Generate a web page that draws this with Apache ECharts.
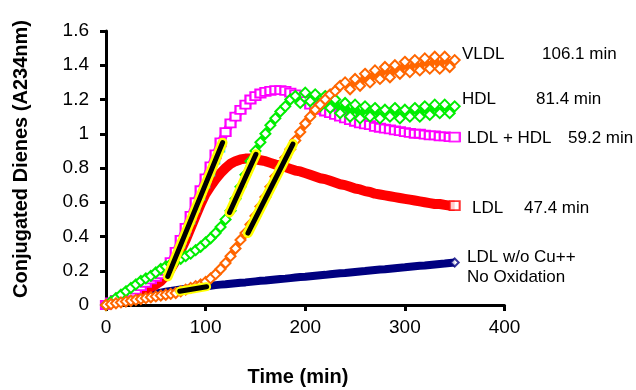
<!DOCTYPE html>
<html>
<head>
<meta charset="utf-8">
<script src="https://cdn.jsdelivr.net/npm/echarts@6/dist/echarts.min.js"></script>
<style>
html,body{margin:0;padding:0;background:#fff;}
#chart{width:636px;height:390px;}
</style>
</head>
<body>
<div id="chart"></div>
<script>
// Time points (min)
const time = [0,5,10,15,20,25,30,35,40,45,50,55,60,65,70,75,80,85,90,95,100,105,110,115,120,125,130,135,140,145,150,155,160,165,170,175,180,185,190,195,200,205,210,215,220,225,230,235,240,245,250,255,260,265,270,275,280,285,290,295,300,305,310,315,320,325,330,335,340,345,350];

// LDL (red)
const ldl = [0,0.01,0.02,0.03,0.04,0.05,0.06,0.075,0.09,0.105,0.12,0.14,0.17,0.21,0.26,0.32,0.38,0.45,0.52,0.59,0.65,0.695,0.735,0.77,0.80,0.825,0.84,0.85,0.855,0.855,0.85,0.845,0.84,0.83,0.82,0.815,0.805,0.795,0.785,0.78,0.77,0.76,0.75,0.74,0.735,0.725,0.715,0.705,0.70,0.69,0.68,0.675,0.665,0.66,0.65,0.645,0.64,0.635,0.63,0.625,0.62,0.615,0.61,0.605,0.60,0.595,0.59,0.59,0.585,0.58,0.58];

// LDL + HDL (magenta)
const ldlHdl = [0,0.015,0.03,0.045,0.06,0.075,0.09,0.11,0.13,0.15,0.165,0.18,0.2,0.25,0.31,0.38,0.45,0.52,0.6,0.67,0.74,0.81,0.88,0.95,1.01,1.06,1.1,1.14,1.17,1.2,1.22,1.235,1.245,1.25,1.255,1.255,1.25,1.24,1.23,1.21,1.19,1.17,1.15,1.14,1.13,1.12,1.11,1.10,1.09,1.08,1.07,1.06,1.055,1.05,1.04,1.035,1.03,1.025,1.02,1.015,1.01,1.005,1.0,1.0,0.995,0.99,0.99,0.985,0.985,0.98,0.98];

// HDL (green)
const hdl = [0,0.02,0.04,0.06,0.08,0.10,0.12,0.14,0.155,0.17,0.19,0.21,0.225,0.24,0.255,0.27,0.285,0.30,0.32,0.34,0.365,0.39,0.42,0.455,0.50,0.55,0.62,0.69,0.76,0.84,0.90,0.95,1.0,1.05,1.09,1.13,1.16,1.20,1.22,1.18,1.24,1.19,1.23,1.16,1.22,1.15,1.20,1.12,1.18,1.10,1.17,1.09,1.16,1.10,1.15,1.09,1.14,1.10,1.15,1.09,1.14,1.10,1.15,1.10,1.16,1.11,1.17,1.12,1.17,1.12,1.16];

// VLDL (orange)
const vldl = [0,0.005,0.01,0.015,0.02,0.025,0.03,0.035,0.04,0.045,0.05,0.055,0.06,0.065,0.07,0.08,0.09,0.10,0.11,0.12,0.135,0.155,0.18,0.21,0.245,0.285,0.33,0.38,0.42,0.47,0.52,0.575,0.63,0.69,0.75,0.80,0.86,0.91,0.96,1.01,1.06,1.10,1.14,1.17,1.2,1.23,1.25,1.28,1.30,1.26,1.32,1.28,1.35,1.30,1.37,1.32,1.39,1.33,1.40,1.35,1.42,1.36,1.43,1.37,1.44,1.38,1.45,1.38,1.45,1.39,1.43];

// LDL w/o Cu++ (navy)
const noCu = [0,0.005,0.01,0.015,0.02,0.028,0.035,0.045,0.053,0.06,0.066,0.072,0.077,0.082,0.086,0.09,0.094,0.098,0.102,0.106,0.11,0.113,0.116,0.119,0.121,0.124,0.127,0.13,0.132,0.135,0.138,0.141,0.143,0.146,0.149,0.152,0.154,0.157,0.16,0.163,0.165,0.168,0.171,0.174,0.176,0.179,0.182,0.185,0.187,0.19,0.193,0.196,0.198,0.201,0.204,0.207,0.209,0.212,0.215,0.218,0.22,0.223,0.226,0.229,0.231,0.234,0.237,0.24,0.242,0.245,0.248];

// Cyan points partly hidden under the LDL+HDL rise
const cyanTime = [75,80,85,90,95,100,105,110,115];
const cyanVals = [0.35,0.42,0.49,0.56,0.63,0.70,0.77,0.84,0.91];

// Tangent (maximum-rate) fits: [x0, x1], [y0, y1]
const tanLdlX = [62,117];     const tanLdlY = [0.167,0.948];
const tanHdlX = [124,150.5];  const tanHdlY = [0.54,0.88];
const tanVldlX = [142.5,187.6]; const tanVldlY = [0.42,0.94];
const tanLagX = [74,101];     const tanLagY = [0.08,0.107];

// Axis ticks
const xTicks = [0,100,200,300,400];
const yTicks = [0,0.2,0.4,0.6,0.8,1,1.2,1.4,1.6];

// Right-side labels
const labelNames = ['VLDL','HDL','LDL + HDL','LDL','LDL w/o Cu++','No Oxidation'];
const labelTimes = ['106.1 min','81.4 min','59.2 min','47.4 min'];

const pairs = (xs, ys) => xs.map((x, i) => [x, ys[i]]);
const last = (ys) => [[time[time.length - 1], ys[ys.length - 1]]];

const FONT = '"Liberation Sans", Arial, sans-serif';

const chart = echarts.init(document.getElementById('chart'));

function seg(xs, ys, color, width) {
  return {type:'line', data: pairs(xs, ys), symbol:'none', silent:true,
    lineStyle:{color:color, width:width, cap:'round'}, z:5};
}

const textEl = (text, x, y) => ({
  type:'text', x:x, y:y,
  style:{text:text, fill:'#000', font:'17px ' + FONT, textVerticalAlign:'middle'}
});

chart.setOption({
  animation:false,
  backgroundColor:'#fff',
  grid:{left:106, right:131.5, top:31, bottom:85, containLabel:false},
  xAxis:{type:'value', min:0, max:400, interval:100,
    axisLine:{show:true, onZero:false, lineStyle:{color:'#000', width:3}},
    axisTick:{show:true, length:6, lineStyle:{color:'#000', width:3}},
    axisLabel:{color:'#000', fontFamily:FONT, fontSize:19, margin:13},
    splitLine:{show:false}},
  yAxis:{type:'value', min:0, max:1.6, interval:0.2,
    axisLine:{show:true, onZero:false, lineStyle:{color:'#000', width:3}},
    axisTick:{show:true, length:6, lineStyle:{color:'#000', width:3}},
    axisLabel:{color:'#000', fontFamily:FONT, fontSize:19, margin:17},
    splitLine:{show:false}},
  series:[
    {name:'LDL w/o Cu++', type:'line', data:pairs(time, noCu), symbol:'none',
      lineStyle:{color:'#000080', width:8}, z:2},
    {type:'scatter', data:last(noCu), symbol:'emptyDiamond', symbolSize:8,
      itemStyle:{color:'#000080', borderWidth:1.5}, z:2},
    {name:'LDL', type:'line', data:pairs(time, ldl), symbol:'none',
      lineStyle:{color:'#ff0000', width:10}, z:2},
    {type:'scatter', data:last(ldl), symbol:'emptyRect', symbolSize:[10,9],
      itemStyle:{color:'#ff0000', borderWidth:1.5}, z:2},
    {name:'cyan', type:'line', data:pairs(cyanTime, cyanVals), symbol:'emptyRect', symbolSize:[7,5],
      itemStyle:{color:'#00ccff', borderWidth:1.2}, lineStyle:{color:'#00ccff', width:4}, z:2},
    {name:'LDL + HDL', type:'line', data:pairs(time, ldlHdl), symbol:'emptyRect', symbolSize:[10,8],
      itemStyle:{color:'#ff00ff', borderWidth:1.5}, lineStyle:{color:'#ff00ff', width:8}, z:2},
    {type:'scatter', data:last(ldlHdl), symbol:'emptyRect', symbolSize:[10,9],
      itemStyle:{color:'#ff00ff', borderWidth:1.5}, z:2},
    {name:'HDL', type:'line', data:pairs(time, hdl), symbol:'emptyDiamond', symbolSize:10,
      itemStyle:{color:'#00ee00', borderWidth:1.5}, lineStyle:{color:'#00ee00', width:6}, z:2},
    {name:'VLDL', type:'line', data:pairs(time, vldl), symbol:'emptyDiamond', symbolSize:10,
      itemStyle:{color:'#ff6600', borderWidth:1.5}, lineStyle:{color:'#ff6600', width:6}, z:2},
    seg(tanLdlX, tanLdlY, '#ffff00', 10),
    seg(tanHdlX, tanHdlY, '#ffff00', 10),
    seg(tanVldlX, tanVldlY, '#ffff00', 10),
    seg(tanLagX, tanLagY, '#ffff00', 9),
    seg(tanLdlX, tanLdlY, '#000', 5),
    seg(tanHdlX, tanHdlY, '#000', 5),
    seg(tanVldlX, tanVldlY, '#000', 5),
    seg(tanLagX, tanLagY, '#000', 5)
  ],
  graphic:[
    textEl(labelNames[0], 462, 54),
    textEl(labelTimes[0], 542, 54),
    textEl(labelNames[1], 462, 99),
    textEl(labelTimes[1], 536, 99),
    textEl(labelNames[2], 467, 138),
    textEl(labelTimes[2], 568, 138),
    textEl(labelNames[3], 472, 208),
    textEl(labelTimes[3], 524, 208),
    textEl(labelNames[4], 467, 257),
    textEl(labelNames[5], 467, 277),
    {type:'text', x:298, y:377,
      style:{text:'Time (min)', fill:'#000', font:'bold 20px ' + FONT, textAlign:'center', textVerticalAlign:'middle'}},
    {type:'text', x:21, y:159, rotation:Math.PI/2,
      style:{text:'Conjugated Dienes (A234nm)', fill:'#000', font:'bold 20px ' + FONT, textAlign:'center', textVerticalAlign:'middle'}}
  ]
});
</script>
</body>
</html>
